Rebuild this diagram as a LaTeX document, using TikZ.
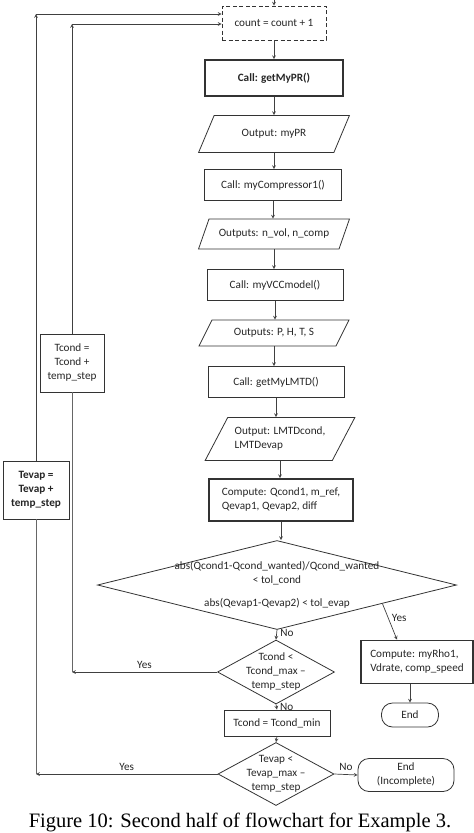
\documentclass[tikz,border=0pt]{standalone}
\usepackage{fontspec}
\setmainfont{Carlito}
\newfontfamily\capfont{Liberation Serif}
\usetikzlibrary{shapes.geometric}

\begin{document}
\begin{tikzpicture}[x=1pt, y=-1pt,
    every node/.style={font=\fontsize{11.2}{14}\selectfont, text=black!85},
    proc/.style={draw=black!80, line width=0.8pt, align=center, inner sep=2pt},
    boldproc/.style={proc, line width=1.7pt},
    io/.style={draw=black!80, line width=0.8pt, trapezium, trapezium left angle=52, trapezium right angle=128, trapezium stretches=true, minimum width=151pt, align=center, inner sep=1pt},
    decide/.style={draw=black!80, line width=0.8pt, diamond},
    term/.style={draw=black!80, line width=0.8pt, rounded corners=11pt, align=center},
    arrow/.style={->, >=stealth, line width=0.7pt, draw=black!75},
    loopline/.style={line width=0.7pt, draw=black!60}
]
    \useasboundingbox (0,0) rectangle (474,833);

    % main column
    \node[proc, dashed, dash pattern=on 4pt off 2.5pt, minimum width=104pt, minimum height=34pt] (count) at (274,23) {count = count + 1};
    \node[boldproc, minimum width=138pt, minimum height=36pt, font=\fontsize{11.2}{14}\selectfont\bfseries] (pr) at (274,78) {Call: getMyPR()};
    \node[io, minimum height=37pt] (outpr) at (274,134) {Output: myPR};
    \node[proc, minimum width=137pt, minimum height=31pt] (comp) at (273,185) {Call: myCompressor1()};
    \node[io, minimum height=30pt] (outcomp) at (274,234) {Outputs: n\_vol, n\_comp};
    \node[proc, minimum width=136pt, minimum height=31pt] (vcc) at (275,285) {Call: myVCCmodel()};
    \node[io, minimum height=26pt] (outvcc) at (274,333) {Outputs: P, H, T, S};
    \node[proc, minimum width=136pt, minimum height=31pt] (lmtd) at (276,382) {Call: getMyLMTD()};
    \node[io, minimum height=43pt, minimum width=150pt, align=left] (outlmtd) at (280,439) {Output: LMTDcond,\\LMTDevap};
    \node[boldproc, minimum width=144pt, minimum height=42pt, align=left] (heat) at (281,500) {Compute: Qcond1, m\_ref,\\Qevap1, Qevap2, diff};

    % decisions
    \node[decide, minimum width=359pt, minimum height=89pt,
        label={[align=center]center:{abs(Qcond1-Qcond\_wanted)/Qcond\_wanted\\< tol\_cond\\[9pt]abs(Qevap1-Qevap2) < tol\_evap}}] (conv) at (277,585) {};
    \node[decide, minimum width=117pt, minimum height=64pt,
        label={[align=center]center:{Tcond <\\Tcond\_max --\\temp\_step}}] (dtcond) at (276,672) {};
    \node[proc, minimum width=106pt, minimum height=26pt] (tcmin) at (277,723) {Tcond = Tcond\_min};
    \node[decide, minimum width=116pt, minimum height=63pt,
        label={[align=center]center:{Tevap <\\Tevap\_max --\\temp\_step}}] (dtevap) at (276,774) {};

    % ends
    \node[boldproc, minimum width=112pt, minimum height=43pt, align=left] (rho) at (417,662) {Compute: myRho1,\\Vdrate, comp\_speed};
    \node[term, minimum width=57pt, minimum height=24pt] (end) at (410,715) {End};
    \node[term, minimum width=96pt, minimum height=33pt] (endinc) at (406,775) {End\\(Incomplete)};

    % loop updates
    \node[proc, fill=white, minimum width=64pt, minimum height=58pt] (tcstep) at (72,363) {Tcond =\\Tcond +\\temp\_step};
    \node[proc, fill=white, minimum width=66pt, minimum height=58pt, font=\fontsize{11.2}{14}\selectfont\bfseries] (testep) at (36,490) {Tevap =\\Tevap +\\temp\_step};

    \coordinate (in) at (274,0);
    \coordinate (ib) at (72,672);
    \coordinate (it) at (72,24);
    \coordinate (ob) at (36,774);
    \coordinate (ot) at (36,14);

    \draw[arrow] (in) -- (count.north);
    \foreach \a/\b in {count/pr, pr/outpr, outpr/comp, comp/outcomp, outcomp/vcc, vcc/outvcc, outvcc/lmtd, lmtd/outlmtd, outlmtd/heat, heat/conv}
        \draw[arrow] (\a.south) -- (\a.south |- \b.north);

    \draw[arrow] (conv.south) -- node[right, pos=0.3]{No} (dtcond.north);
    \draw[arrow] (conv.-10) -- node[right, pos=0.4]{Yes} ([xshift=-20pt]rho.north);
    \draw[arrow] (end.north |- rho.south) -- (end.north);
    \draw[arrow] (dtcond.south) -- node[right, pos=0.4]{No} (tcmin.north);
    \draw[arrow] (tcmin.south) -- (dtevap.north);
    \draw[arrow] (dtevap.east) -- node[above]{No} (endinc.west);

    % inner loop
    \draw[arrow] (dtcond.west) -- node[above]{Yes} (ib);
    \draw[loopline] (ib) -- (tcstep.south);
    \draw[arrow] (tcstep.north) -- (it);
    \draw[arrow] (it) -- (count.west |- it);

    % outer loop
    \draw[arrow] (dtevap.west) -- node[above]{Yes} (ob);
    \draw[loopline] (ob) -- (testep.south);
    \draw[arrow] (testep.north) -- (ot);
    \draw[arrow] (ot) -- (count.west |- ot);

    \node[anchor=base, font=\capfont\fontsize{20.5}{24}\selectfont, text=black] (cap) at (240,827) {Figure 10: Second half of flowchart for Example 3.};
\end{tikzpicture}
\end{document}
